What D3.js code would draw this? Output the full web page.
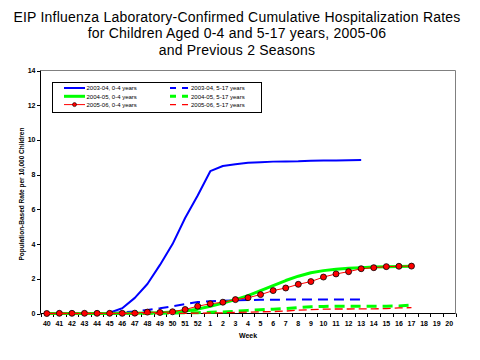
<!DOCTYPE html>
<html><head><meta charset="utf-8">
<script src="https://cdn.jsdelivr.net/npm/d3@7"></script>
<style>body{margin:0;background:#fff}svg{display:block;font-family:"Liberation Sans",Arial,sans-serif}</style>
</head><body><svg id="c" width="480" height="360"></svg>
<script>
const weeks = ["40","41","42","43","44","45","46","47","48","49","50","51","52","1","2","3","4","5","6","7","8","9","10","11","12","13","14","15","16","17","18","19","20"];
const yTicks = [0,2,4,6,8,10,12,14];
const titleLines = ["EIP Influenza Laboratory-Confirmed Cumulative Hospitalization Rates","for Children Aged 0-4 and 5-17 years, 2005-06","and Previous 2 Seasons"];
const s0304_04 = [0,0,0,0,0.01,0.05,0.3,0.9,1.7,2.8,4.0,5.5,6.8,8.2,8.5,8.6,8.68,8.72,8.75,8.76,8.77,8.8,8.82,8.82,8.83,8.84];
const s0304_517 = [0,0,0,0,0.01,0.02,0.06,0.12,0.2,0.3,0.42,0.54,0.66,0.71,0.74,0.76,0.78,0.79,0.79,0.8,0.8,0.8,0.8,0.8,0.8,0.8];
const s0405_04 = [0,0,0,0,0,0,0.01,0.02,0.03,0.05,0.08,0.14,0.25,0.42,0.6,0.8,1.03,1.32,1.61,1.9,2.15,2.35,2.47,2.55,2.6,2.64,2.68,2.7,2.71,2.72];
const s0405_517 = [0,0,0,0,0,0,0,0,0.01,0.02,0.03,0.04,0.05,0.07,0.09,0.13,0.18,0.22,0.25,0.28,0.34,0.39,0.41,0.42,0.42,0.42,0.42,0.42,0.43,0.48];
const s0506_04 = [0,0.01,0.01,0.01,0.01,0.01,0.01,0.02,0.08,0.06,0.1,0.23,0.42,0.56,0.65,0.8,0.91,1.09,1.32,1.47,1.68,1.84,2.1,2.28,2.41,2.58,2.64,2.7,2.72,2.73];
const s0506_517 = [0,0,0,0,0,0,0,0,0,0,0.01,0.01,0.02,0.03,0.04,0.06,0.08,0.1,0.11,0.14,0.19,0.22,0.25,0.26,0.26,0.27,0.27,0.28,0.32,0.34];
const seriesNames = ["2003-04, 0-4 years","2003-04, 5-17 years","2004-05, 0-4 years","2004-05, 5-17 years","2005-06, 0-4 years","2005-06, 5-17 years"];

const series = [
  {name:seriesNames[0], v:s0304_04, color:"#0000ff", w:2, dash:null},
  {name:seriesNames[1], v:s0304_517, color:"#0000ff", w:2, dash:"10,6"},
  {name:seriesNames[2], v:s0405_04, color:"#00ff00", w:3, dash:null},
  {name:seriesNames[3], v:s0405_517, color:"#00ff00", w:3, dash:"10,6"},
  {name:seriesNames[4], v:s0506_04, color:"#ff0000", w:1, dash:null, marker:true},
  {name:seriesNames[5], v:s0506_517, color:"#ff0000", w:1.3, dash:"8,4"}
];

const svg = d3.select("#c");
svg.append("rect").attr("width",480).attr("height",360).attr("fill","#fff");
const L=40.5, R=455.5, T=70.5, B=313.5;
const x = d3.scaleBand().domain(weeks).range([L,R]).padding(0);
const y = d3.scaleLinear().domain([0,14]).range([B,T]);
const cx = d => x(d)+x.bandwidth()/2;

// title
svg.append("g").selectAll("text").data(titleLines).join("text")
  .attr("x",237).attr("y",(d,i)=>22+i*16.3).attr("text-anchor","middle")
  .attr("font-size","14px").attr("letter-spacing","0.22px").attr("fill","#000").text(d=>d);

// frame
svg.append("line").attr("x1",L).attr("x2",R).attr("y1",T).attr("y2",T).attr("stroke","#808080");
svg.append("line").attr("x1",R).attr("x2",R).attr("y1",T).attr("y2",B).attr("stroke","#808080");

// y axis
const ya = svg.append("g");
ya.append("line").attr("x1",L).attr("x2",L).attr("y1",T).attr("y2",B).attr("stroke","#000");
ya.selectAll("line.t").data(yTicks).join("line").attr("class","t")
  .attr("x1",L-3.5).attr("x2",L).attr("y1",d=>Math.round(y(d))+0.5).attr("y2",d=>Math.round(y(d))+0.5).attr("stroke","#000");
ya.selectAll("text").data(yTicks).join("text")
  .attr("x",L-5).attr("y",d=>y(d)+2.5).attr("text-anchor","end")
  .attr("font-size","7px").attr("font-weight","bold").text(d=>d);

// x axis
const xa = svg.append("g");
xa.append("line").attr("x1",L).attr("x2",R).attr("y1",B).attr("y2",B).attr("stroke","#000");
xa.selectAll("line.t").data(weeks.concat(["end"])).join("line").attr("class","t")
  .attr("x1",d=>Math.round(d==="end"?R:x(d))+0.5).attr("x2",d=>Math.round(d==="end"?R:x(d))+0.5)
  .attr("y1",B).attr("y2",B+3.5).attr("stroke","#000");
xa.selectAll("text").data(weeks).join("text")
  .attr("x",d=>cx(d)).attr("y",B+12.5).attr("text-anchor","middle")
  .attr("font-size","7px").attr("font-weight","bold").text(d=>d);

svg.append("text").attr("x",248).attr("y",338).attr("text-anchor","middle")
  .attr("font-size","7px").attr("font-weight","bold").text("Week");
svg.append("text").attr("transform","translate(24,194) rotate(-90)").attr("text-anchor","middle")
  .attr("font-size","6.5px").attr("font-weight","bold").text("Population-Based Rate per 10,000 Children");

// series
const line = d3.line().x((d,i)=>cx(weeks[i])).y(d=>y(d));
const g = svg.append("g");
series.forEach(s=>{
  g.append("path").datum(s.v).attr("d",line).attr("fill","none")
    .attr("stroke",s.color).attr("stroke-width",s.w)
    .attr("stroke-dasharray",s.dash).attr("stroke-linejoin","round");
  if(s.marker){
    g.selectAll(null).data(s.v).join("circle")
      .attr("cx",(d,i)=>cx(weeks[i])).attr("cy",d=>y(d)).attr("r",3)
      .attr("fill","#ff0000").attr("stroke","#000").attr("stroke-width",0.8);
  }
});

// legend
const lg = svg.append("g");
lg.append("rect").attr("x",52.5).attr("y",82.5).attr("width",209).attr("height",30)
  .attr("fill","#fff").attr("stroke","#000");
const order = [[0,2,4],[1,3,5]];
const colX = [[64,85,86.5],[170,190,191]];
order.forEach((col,ci)=>{
  col.forEach((si,ri)=>{
    const s = series[si];
    const yy = 88+ri*8.3;
    lg.append("line").attr("x1",colX[ci][0]).attr("x2",colX[ci][1]).attr("y1",yy).attr("y2",yy)
      .attr("stroke",s.color).attr("stroke-width",s.w).attr("stroke-dasharray",s.dash?"6,6":null);
    if(s.marker){
      lg.append("circle").attr("cx",(colX[ci][0]+colX[ci][1])/2).attr("cy",yy).attr("r",2)
        .attr("fill","#ff0000").attr("stroke","#000").attr("stroke-width",0.6);
    }
    lg.append("text").attr("x",colX[ci][2]).attr("y",yy+2.2).attr("font-size","6px")
      .text(s.name);
  });
});
</script></body></html>
